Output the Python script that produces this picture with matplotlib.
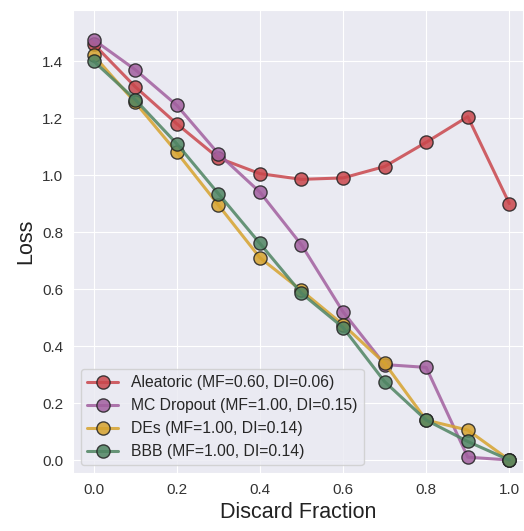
import numpy as np
import matplotlib
matplotlib.use("Agg")
import matplotlib.pyplot as plt
import seaborn as sns

sns.set_style("darkgrid")
plt.rcParams['font.family'] = ['Liberation Sans', 'DejaVu Sans']

fractions = [0.0, 0.1, 0.2, 0.3, 0.4, 0.5, 0.6, 0.7, 0.8, 0.9, 1.0]
aleatoric = [1.46, 1.31, 1.18, 1.06, 1.005, 0.985, 0.99, 1.03, 1.115, 1.205, 0.90]
mc_dropout = [1.475, 1.37, 1.245, 1.075, 0.94, 0.755, 0.52, 0.335, 0.325, 0.01, 0.0]
des = [1.42, 1.255, 1.08, 0.895, 0.71, 0.595, 0.475, 0.34, 0.14, 0.105, 0.0]
bbb = [1.40, 1.265, 1.11, 0.935, 0.76, 0.585, 0.465, 0.275, 0.14, 0.065, 0.0]

labels = ["Aleatoric (MF=0.60, DI=0.06)", "MC Dropout (MF=1.00, DI=0.15)",
          "DEs (MF=1.00, DI=0.14)", "BBB (MF=1.00, DI=0.14)"]
colors = ["#c9474c", "#a2609f", "#d6a32e", "#4f8462"]

fig = plt.figure(figsize=(5.24, 5.31), dpi=100)
ax = fig.add_axes([0.139, 0.109, 0.86, 0.872])

for ys, lab, c in zip([aleatoric, mc_dropout, des, bbb], labels, colors):
    ax.plot(fractions, ys, marker='o', color=c, alpha=0.85, lw=2.2,
            markersize=9.5, markeredgecolor='#222222', markeredgewidth=1.0, label=lab)

ax.set_xlim(-0.05, 1.034)
ax.set_ylim(-0.046, 1.579)
ax.set_xticks([0.0, 0.2, 0.4, 0.6, 0.8, 1.0])
ax.set_yticks([0.0, 0.2, 0.4, 0.6, 0.8, 1.0, 1.2, 1.4])
ax.tick_params(labelsize=11, colors='#333333')
ax.set_xlabel("Discard Fraction", fontsize=15.5, color='#222222')
ax.set_ylabel("Loss", fontsize=15.5, color='#222222')
ax.legend(loc='lower left', fontsize=11.3, framealpha=0.8)

fig.savefig("out.png", dpi=100)
